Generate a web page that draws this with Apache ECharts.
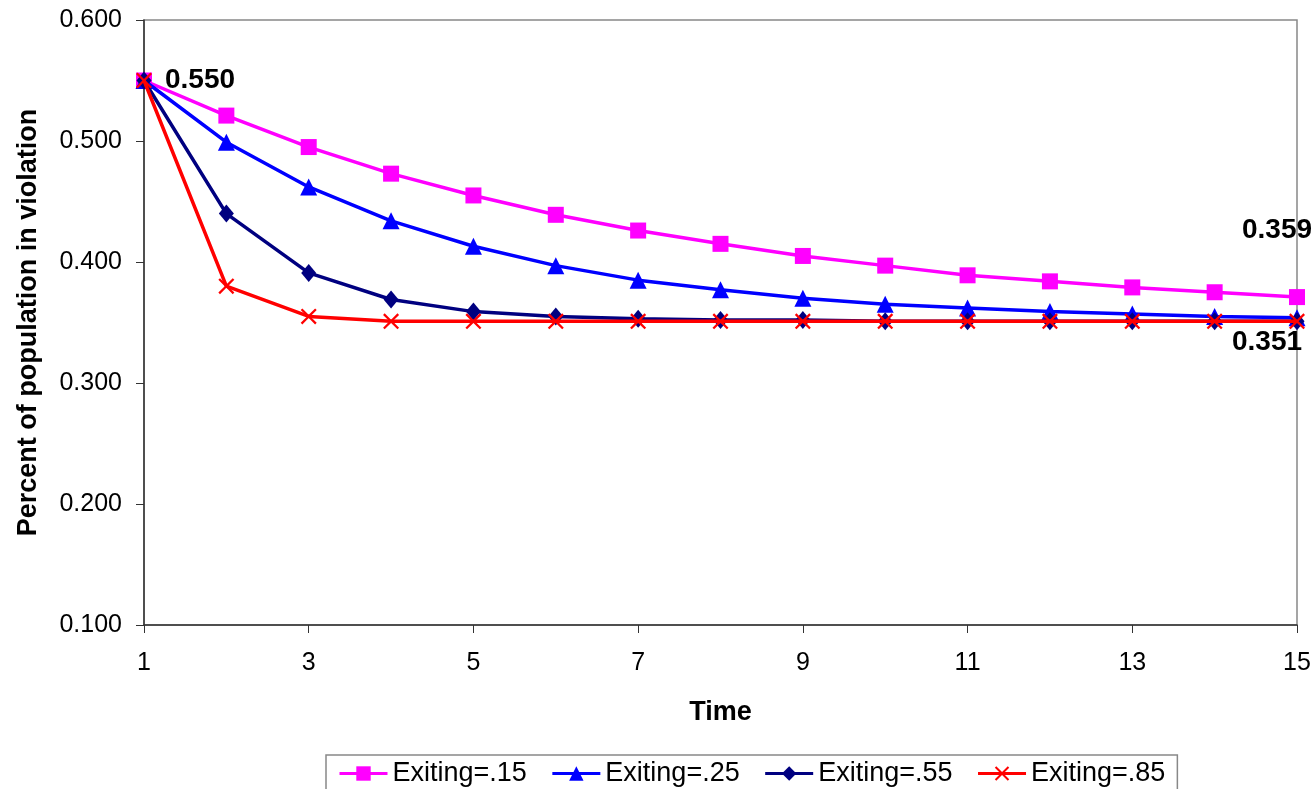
<!DOCTYPE html>
<html>
<head>
<meta charset="utf-8">
<script src="https://cdn.jsdelivr.net/npm/echarts@6/dist/echarts.min.js"></script>
<style>
  html, body { margin: 0; padding: 0; background: #fff; }
  #chart { width: 1316px; height: 789px; }
</style>
</head>
<body>
<div id="chart"></div>
<script>
// time steps
const times = ['1','2','3','4','5','6','7','8','9','10','11','12','13','14','15'];

// share of population in violation, per exit rate
const exit15 = [0.550, 0.521, 0.495, 0.473, 0.455, 0.439, 0.426, 0.415, 0.405, 0.397, 0.389, 0.384, 0.379, 0.375, 0.371];
const exit25 = [0.550, 0.499, 0.462, 0.434, 0.413, 0.397, 0.385, 0.377, 0.370, 0.365, 0.362, 0.359, 0.357, 0.355, 0.354];
const exit55 = [0.550, 0.440, 0.391, 0.369, 0.359, 0.355, 0.353, 0.352, 0.352, 0.351, 0.351, 0.351, 0.351, 0.351, 0.351];
const exit85 = [0.550, 0.380, 0.355, 0.351, 0.351, 0.351, 0.351, 0.351, 0.351, 0.351, 0.351, 0.351, 0.351, 0.351, 0.351];

const seriesNames = ['Exiting=.15', 'Exiting=.25', 'Exiting=.55', 'Exiting=.85'];

// data labels as printed on the chart
const startLabel = '0.550';
const topEndLabel = '0.359';
const lowEndLabel = '0.351';

const FONT = '"Liberation Sans", Arial, sans-serif';
const crossPath = 'path://M0,1 L1,0 L5,4 L9,0 L10,1 L6,5 L10,9 L9,10 L5,6 L1,10 L0,9 L4,5 Z';

const chart = echarts.init(document.getElementById('chart'));

// put a bold text label on one point of a series
function withLabel(values, idx, text, offset) {
  return values.map(function (v, i) {
    if (i !== idx) return v;
    return {
      value: v,
      label: {
        show: true,
        position: 'inside',
        offset: offset,
        fontFamily: FONT,
        fontSize: 28,
        fontWeight: 'bold',
        color: '#000',
        formatter: text
      }
    };
  });
}

let topData = withLabel(exit15, 0, startLabel, [56, 0]);
topData[14] = withLabel(exit15, 14, topEndLabel, [-20, -67])[14];

const option = {
  backgroundColor: '#fff',
  animation: false,
  grid: {
    left: 144, top: 20, right: 19, bottom: 164,
    show: true, borderColor: '#888', borderWidth: 1.5,
    containLabel: false
  },
  legend: {
    left: 326, top: 755,
    padding: [5, 12, 12, 12],
    borderColor: '#888', borderWidth: 1.5,
    itemWidth: 48, itemHeight: 18, itemGap: 24,
    lineStyle: { width: 3 },
    textStyle: { fontFamily: FONT, fontSize: 27, color: '#000' },
    data: seriesNames
  },
  xAxis: {
    type: 'category',
    data: times,
    boundaryGap: false,
    name: 'Time',
    nameLocation: 'middle',
    nameGap: 74,
    nameTextStyle: { fontFamily: FONT, fontSize: 27, fontWeight: 'bold', color: '#000' },
    axisLine: { lineStyle: { color: '#333', width: 1.5 } },
    axisTick: { show: true, interval: 1, length: 8, lineStyle: { color: '#333' } },
    axisLabel: { interval: 1, margin: 26, fontFamily: FONT, fontSize: 25, color: '#000' },
    splitLine: { show: false }
  },
  yAxis: {
    type: 'value',
    min: 0.1, max: 0.6, interval: 0.1,
    name: 'Percent of population in violation',
    nameLocation: 'middle',
    nameGap: 102,
    nameTextStyle: { fontFamily: FONT, fontSize: 27, fontWeight: 'bold', color: '#000' },
    axisLine: { show: true, lineStyle: { color: '#333', width: 1.5 } },
    axisTick: { show: true, length: 8, lineStyle: { color: '#333' } },
    axisLabel: {
      margin: 22, fontFamily: FONT, fontSize: 25, color: '#000',
      formatter: function (v) { return v.toFixed(3); }
    },
    splitLine: { show: false }
  },
  series: [
    {
      name: seriesNames[0], type: 'line', data: topData,
      symbol: 'rect', symbolSize: 16,
      lineStyle: { color: '#FF00FF', width: 3.5 },
      itemStyle: { color: '#FF00FF' },
      z: 2
    },
    {
      name: seriesNames[1], type: 'line', data: exit25,
      symbol: 'triangle', symbolSize: 17,
      lineStyle: { color: '#0000FF', width: 3.5 },
      itemStyle: { color: '#0000FF' },
      z: 3
    },
    {
      name: seriesNames[2], type: 'line', data: exit55,
      symbol: 'diamond', symbolSize: [15, 18],
      lineStyle: { color: '#000080', width: 3.5 },
      itemStyle: { color: '#000080' },
      z: 4
    },
    {
      name: seriesNames[3], type: 'line', data: withLabel(exit85, 14, lowEndLabel, [-30, 21]),
      symbol: crossPath, symbolSize: 16,
      lineStyle: { color: '#FF0000', width: 3.5 },
      itemStyle: { color: '#FF0000' },
      z: 5
    }
  ]
};

chart.setOption(option);
</script>
</body>
</html>
